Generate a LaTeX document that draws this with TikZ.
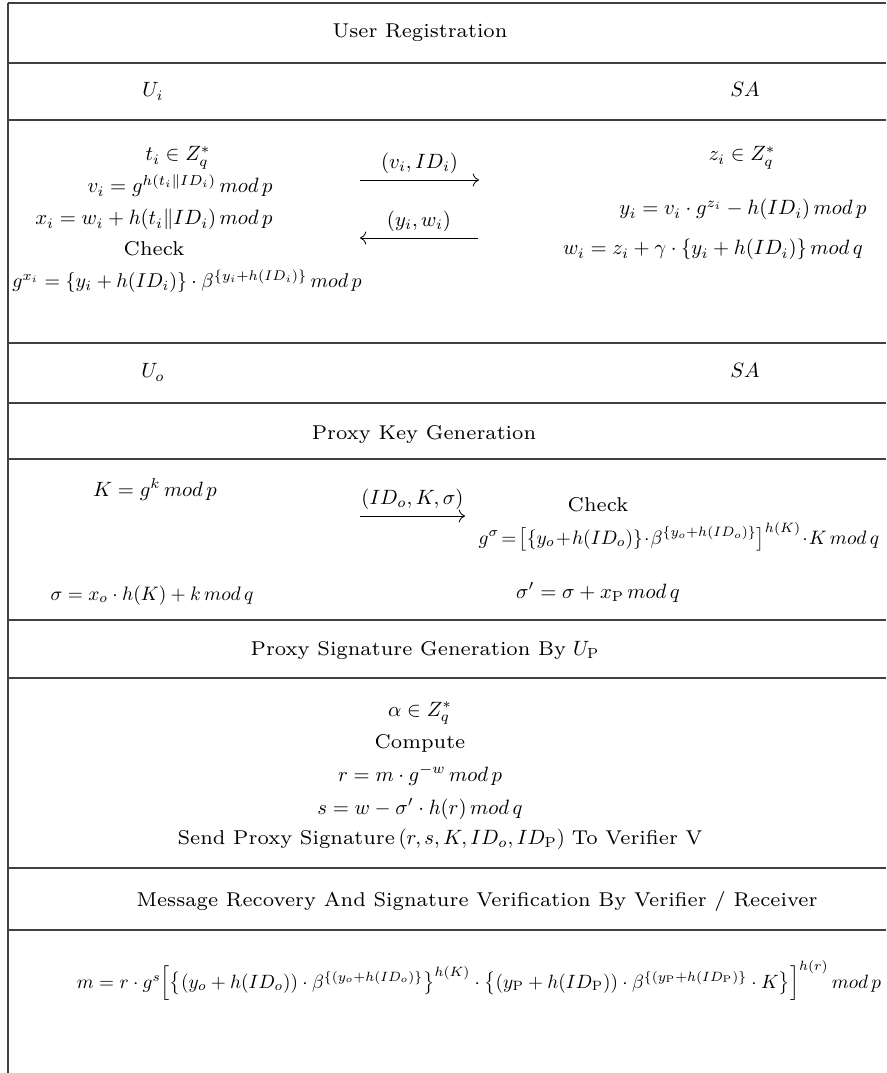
\documentclass[tikz,border=0pt]{standalone}
\usepackage{amsmath}
\usetikzlibrary{arrows.meta}
\newcommand{\tx}[1]{\scalebox{1.38}{\fontsize{7}{8}\selectfont #1}}
\newcommand{\sm}[2][0.94]{\scalebox{#1}{$#2$}}
\tikzset{
  rule/.style={line width=0.55pt, draw=black!75},
  txt/.style={inner sep=0pt, anchor=base},
  msg/.style={line width=0.4pt, -{To[length=3pt]}},
}
\begin{document}
\begin{tikzpicture}[x=0.483pt,y=-0.483pt]
\useasboundingbox (0,0) rectangle (886,1073);
% frame lines
\draw[rule] (8,3) -- (8,1073);
\foreach \yy in {3,63,120,343,403,459,620,678,868,930}
  \draw[rule] (8,\yy) -- (886,\yy);
% headers
\node[txt] (h1) at (420,38) {\tx{User Registration}};
\node[txt] (ui) at (153,97) {$U_i$};
\node[txt] (sa1) at (745,97) {$SA$};
% registration left
\node[txt] (l1) at (178,161) {$t_i \in Z_q^*$};
\node[txt] (l2) at (180,193) {$v_i = g^{h(t_i\|ID_i)}\,mod\,p$};
\node[txt] (l3) at (154,225) {$x_i = w_i + h(t_i\|ID_i)\,mod\,p$};
\node[txt] (l4) at (154,256) {\tx{Check}};
\node[txt] (l5) at (187,288) {\sm[0.965]{g^{x_i} = \{y_i + h(ID_i)\}\cdot\beta^{\{y_i+h(ID_i)\}}\,mod\,p}};
% registration right
\node[txt] (r1) at (742,161) {$z_i \in Z_q^*$};
\node[txt] (r2) at (743,215) {$y_i = v_i\cdot g^{z_i} - h(ID_i)\,mod\,p$};
\node[txt] (r3) at (713,255) {$w_i = z_i + \gamma\cdot\{y_i + h(ID_i)\}\,mod\,q$};
% messages
\coordinate (a1s) at (360,180); \coordinate (a1e) at (479,180);
\draw[msg] (a1s) -- (a1e) node[midway, above=3pt, inner sep=0pt] (m1) {$(v_i, ID_i)$};
\coordinate (a2s) at (478,238); \coordinate (a2e) at (360,238);
\draw[msg] (a2s) -- (a2e) node[midway, above=3pt, inner sep=0pt] (m2) {$(y_i, w_i)$};
% second header
\node[txt] (uo) at (153,378) {$U_o$};
\node[txt] (sa2) at (745,378) {$SA$};
\node[txt] (h2) at (424,440) {\tx{Proxy Key Generation}};
% proxy key
\node[txt] (k1) at (155,496) {$K = g^k\,mod\,p$};
\node[txt] (k2) at (152,600) {\sm{\sigma = x_o\cdot h(K) + k\,mod\,q}};
\coordinate (a3s) at (360,516); \coordinate (a3e) at (465,516);
\draw[msg] (a3s) -- (a3e) node[midway, above=3pt, inner sep=0pt] (m3) {$(ID_o, K, \sigma)$};
\node[txt] (c1) at (598,511) {\tx{Check}};
\node[txt] (c2) at (679,544) {\sm{g^\sigma\!=\!\bigl[\{y_o\!+\!h(ID_o)\}\!\cdot\!\beta^{\{y_o+h(ID_o)\}}\bigr]^{h(K)}\!\cdot\! K\,mod\,q}};
\node[txt] (c3) at (598,598) {$\sigma' = \sigma + x_{\mathrm{P}}\,mod\,q$};
% proxy signature
\node[txt] (h3) at (425,655) {\tx{Proxy Signature Generation By} $U_{\mathrm{P}}$};
\node[txt] (p1) at (420,716) {$\alpha\in Z_q^*$};
\node[txt] (p2) at (420,748) {\tx{Compute}};
\node[txt] (p3) at (420,781) {$r = m\cdot g^{-w}\,mod\,p$};
\node[txt] (p4) at (420,814) {$s = w - \sigma'\cdot h(r)\,mod\,q$};
\node[txt] (p5) at (440,844) {\tx{Send Proxy Signature}\,$(r,s,K,ID_o,ID_{\mathrm{P}})$ \tx{To Verifier V}};
% verification
\node[txt] (h4) at (477,906) {\tx{Message Recovery And Signature Verification By Verifier / Receiver}};
\node[txt] (v1) at (479,988) {\sm[0.93]{m = r\cdot g^s\Bigl[\bigl\{(y_o+h(ID_o))\cdot\beta^{\{(y_o+h(ID_o)\}}\bigr\}^{h(K)}\cdot\bigl\{(y_{\mathrm{P}}+h(ID_{\mathrm{P}}))\cdot\beta^{\{(y_{\mathrm{P}}+h(ID_{\mathrm{P}})\}}\cdot K\bigr\}\Bigr]^{h(r)}\,mod\,p}};
\end{tikzpicture}
\end{document}
